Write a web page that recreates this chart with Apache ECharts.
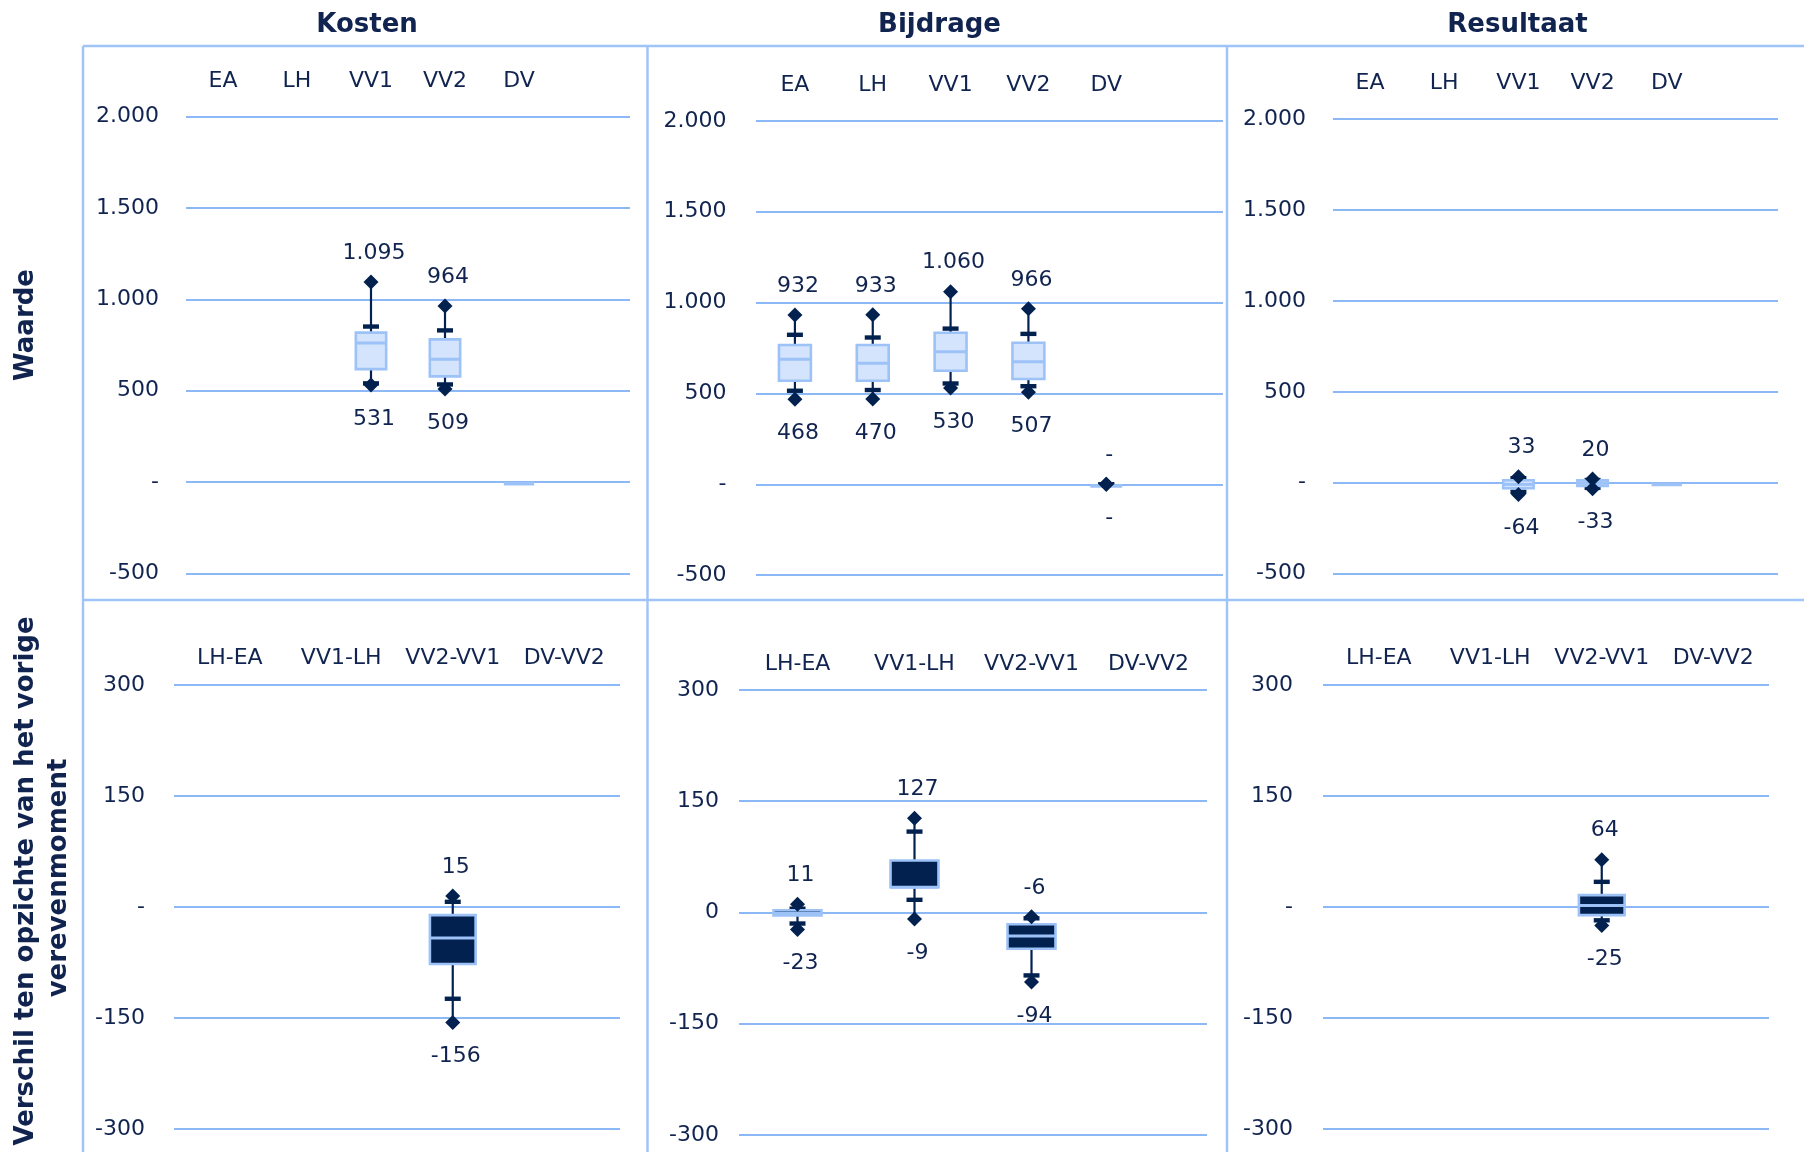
<!DOCTYPE html>
<html>
<head>
<meta charset="utf-8">
<script src="https://cdn.jsdelivr.net/npm/echarts@6/dist/echarts.min.js"></script>
<style>
html,body{margin:0;padding:0;background:#fff;}
#chart{width:1804px;height:1152px;}
</style>
</head>
<body>
<div id="chart"></div>
<script>
// ---------- DATA ----------
const panelTitles = ['Kosten', 'Bijdrage', 'Resultaat'];
const rowTitleTop = 'Waarde';
const rowTitleBottom = ['Verschil ten opzichte van het vorige', 'verevenmoment'];

const levelCats = ['EA', 'LH', 'VV1', 'VV2', 'DV'];
const diffCats = ['LH-EA', 'VV1-LH', 'VV2-VV1', 'DV-VV2'];

const levelTicks = [-500, 0, 500, 1000, 1500, 2000];
const diffTicks = [-300, -150, 0, 150, 300];

// each entry: [min, lowerCap, q1, median, q3, upperCap, max]  (null = not shown)
const kostenLevel = [
  null,
  null,
  [531, 540, 618, 761, 818, 851, 1095],
  [509, 534, 578, 672, 781, 830, 964],
  [null, null, 0, 0, 0, null, null]
];
const bijdrageLevel = [
  [468, 515, 570, 688, 767, 823, 932],
  [470, 519, 570, 667, 767, 808, 933],
  [530, 555, 625, 730, 834, 857, 1060],
  [507, 540, 580, 675, 779, 828, 966],
  [0, 0, 0, 0, 0, 0, 0]
];
const resultaatLevel = [
  null,
  null,
  [-64, -50, -30, -9, 14, 25, 33],
  [-33, -28, -17, -2, 13, 15, 20],
  [null, null, 0, 0, 0, null, null]
];
const kostenDiff = [
  null,
  null,
  [-156, -124, -77, -42, -11, 7, 15],
  null
];
const bijdrageDiff = [
  [-23, -15, -4, -1, 3, 5, 11],
  [-9, 17, 34, 34, 70, 109, 127],
  [-94, -85, -49, -32, -16, -8, -6],
  null
];
const resultaatDiff = [
  null,
  null,
  [-25, -18, -11, 2, 16, 34, 64],
  null
];

// ---------- STYLE ----------
const TXT = '#112450';
const GRIDC = '#8db8f6';
const FRAME = '#9ec4f8';
const NAVY = '#03214f';
const LFILL = '#d4e4fc';
const LSTROKE = '#9cc2f8';
const FONT = 'DejaVu Sans, Verdana, sans-serif';

function fmt(v) {
  if (v === 0) return '-';
  const s = Math.abs(v).toString().replace(/\B(?=(\d{3})+(?!\d))/g, '.');
  return (v < 0 ? '-' : '') + s;
}

function toData(stats) {
  const out = [];
  stats.forEach((row, i) => {
    if (!row) return;
    out.push([i].concat(row.map(v => v === null ? '-' : v)));
  });
  return out;
}

function makeRender(dark) {
  const boxFill = dark ? NAVY : LFILL;
  const boxStroke = LSTROKE;
  const medColor = LSTROKE;
  return function (params, api) {
    const idx = api.value(0);
    const mn = api.value(1), cl = api.value(2), q1 = api.value(3), md = api.value(4),
          q3 = api.value(5), ch = api.value(6), mx = api.value(7);
    const bw = api.size([1, 0])[0] * 0.41;
    const cx = api.coord([idx, q1])[0];
    const Y = v => api.coord([idx, v])[1];
    const ch_ = [];
    const hasMin = !isNaN(mn), hasMax = !isNaN(mx);
    if (hasMin && hasMax) {
      ch_.push({ type: 'line', shape: { x1: cx, y1: Y(mn), x2: cx, y2: Y(mx) },
        style: { stroke: NAVY, lineWidth: 2.2 } });
    }
    [cl, ch].forEach(c => {
      if (!isNaN(c)) {
        ch_.push({ type: 'rect', shape: { x: cx - 8, y: Y(c) - 2.2, width: 16, height: 4.4 },
          style: { fill: NAVY } });
      }
    });
    const yTop = Y(q3), yBot = Y(q1);
    const h = yBot - yTop;
    if (h > 1) {
      ch_.push({ type: 'rect', shape: { x: cx - bw / 2, y: yTop, width: bw, height: h },
        style: { fill: boxFill, stroke: boxStroke, lineWidth: 2.6 } });
      if (!isNaN(md)) {
        ch_.push({ type: 'line', shape: { x1: cx - bw / 2, y1: Y(md), x2: cx + bw / 2, y2: Y(md) },
          style: { stroke: medColor, lineWidth: 3 } });
      }
    } else {
      // collapsed box (all quartiles equal): drawn as a flat light bar just under the value
      ch_.push({ type: 'rect', shape: { x: cx - bw / 2, y: yTop, width: bw, height: 3.5 },
        style: { fill: LSTROKE } });
    }
    const diamond = (yy) => ({ type: 'polygon',
      shape: { points: [[cx, yy - 7.5], [cx + 7.5, yy], [cx, yy + 7.5], [cx - 7.5, yy]] },
      style: { fill: NAVY } });
    if (hasMin) ch_.push(diamond(Y(mn)));
    if (hasMax) ch_.push(diamond(Y(mx)));
    if (hasMax) {
      ch_.push({ type: 'text', x: cx + 3, y: Y(mx) - 29,
        style: { text: fmt(mx), align: 'center', verticalAlign: 'middle', font: '22px ' + FONT, fill: TXT } });
    }
    if (hasMin) {
      ch_.push({ type: 'text', x: cx + 3, y: Y(mn) + 34,
        style: { text: fmt(mn), align: 'center', verticalAlign: 'middle', font: '22px ' + FONT, fill: TXT } });
    }
    return { type: 'group', children: ch_ };
  };
}

// ---------- LAYOUT ----------
const grids = [
  { left: 186, top: 116.7, width: 444, height: 456.6 },
  { left: 756, top: 120.9, width: 467, height: 454.3 },
  { left: 1333, top: 119, width: 445, height: 454.7 },
  { left: 174, top: 685, width: 446, height: 444 },
  { left: 739, top: 690, width: 468, height: 444.8 },
  { left: 1323, top: 685, width: 446, height: 444 }
];
const yMargins = [27, 29.5, 27, 29, 20, 30];
const xMargins = [24, 25, 25, 16, 15, 16];
const panelData = [kostenLevel, bijdrageLevel, resultaatLevel, kostenDiff, bijdrageDiff, resultaatDiff];

const xAxes = [], yAxes = [], series = [];
grids.forEach((g, i) => {
  const level = i < 3;
  xAxes.push({
    type: 'category', gridIndex: i, position: 'top',
    data: level ? levelCats.concat(['']) : diffCats,
    axisLine: { show: false }, axisTick: { show: false }, splitLine: { show: false },
    axisLabel: { interval: 0, margin: xMargins[i], color: TXT, fontSize: 22, fontFamily: FONT }
  });
  const ticks = level ? levelTicks : diffTicks;
  yAxes.push({
    type: 'value', gridIndex: i,
    min: ticks[0], max: ticks[ticks.length - 1], interval: ticks[1] - ticks[0],
    axisLine: { show: false }, axisTick: { show: false },
    splitLine: { show: true, lineStyle: { color: GRIDC, width: 2 } },
    axisLabel: {
      margin: yMargins[i], color: TXT, fontSize: 22, fontFamily: FONT, padding: [5, 0, 0, 0],
      formatter: (v) => (i === 4 && v === 0) ? '0' : fmt(v)
    }
  });
  series.push({
    type: 'custom', xAxisIndex: i, yAxisIndex: i,
    renderItem: makeRender(!level),
    encode: { x: 0, y: [1, 2, 3, 4, 5, 6, 7] },
    data: toData(panelData[i]),
    clip: false, z: 5
  });
});

const titleCenters = [362, 934.5, 1512.5];
const frame = { stroke: FRAME, lineWidth: 2.4 };

const option = {
  backgroundColor: '#ffffff',
  animation: false,
  title: panelTitles.map((t, i) => ({
    text: t, left: titleCenters[i], top: 7, textAlign: 'center',
    textStyle: { color: TXT, fontSize: 26, fontWeight: 'bold', fontFamily: FONT }
  })),
  grid: grids.map(g => Object.assign({ containLabel: false }, g)),
  xAxis: xAxes,
  yAxis: yAxes,
  series: series,
  graphic: [
    { type: 'line', shape: { x1: 83, y1: 46, x2: 1804, y2: 46 }, style: frame },
    { type: 'line', shape: { x1: 83, y1: 600, x2: 1804, y2: 600 }, style: frame },
    { type: 'line', shape: { x1: 83, y1: 46, x2: 83, y2: 1152 }, style: frame },
    { type: 'line', shape: { x1: 647.5, y1: 46, x2: 647.5, y2: 1152 }, style: frame },
    { type: 'line', shape: { x1: 1227, y1: 46, x2: 1227, y2: 1152 }, style: frame },
    { type: 'text', x: 26, y: 325, rotation: Math.PI / 2,
      style: { text: rowTitleTop, align: 'center', verticalAlign: 'middle', fill: TXT,
        font: 'bold 26px ' + FONT } },
    { type: 'text', x: 26, y: 881, rotation: Math.PI / 2,
      style: { text: rowTitleBottom[0], align: 'center', verticalAlign: 'middle', fill: TXT,
        font: 'bold 26px ' + FONT } },
    { type: 'text', x: 59, y: 878, rotation: Math.PI / 2,
      style: { text: rowTitleBottom[1], align: 'center', verticalAlign: 'middle', fill: TXT,
        font: 'bold 26px ' + FONT } }
  ]
};

const chart = echarts.init(document.getElementById('chart'), null, { renderer: 'canvas' });
chart.setOption(option);
</script>
</body>
</html>
